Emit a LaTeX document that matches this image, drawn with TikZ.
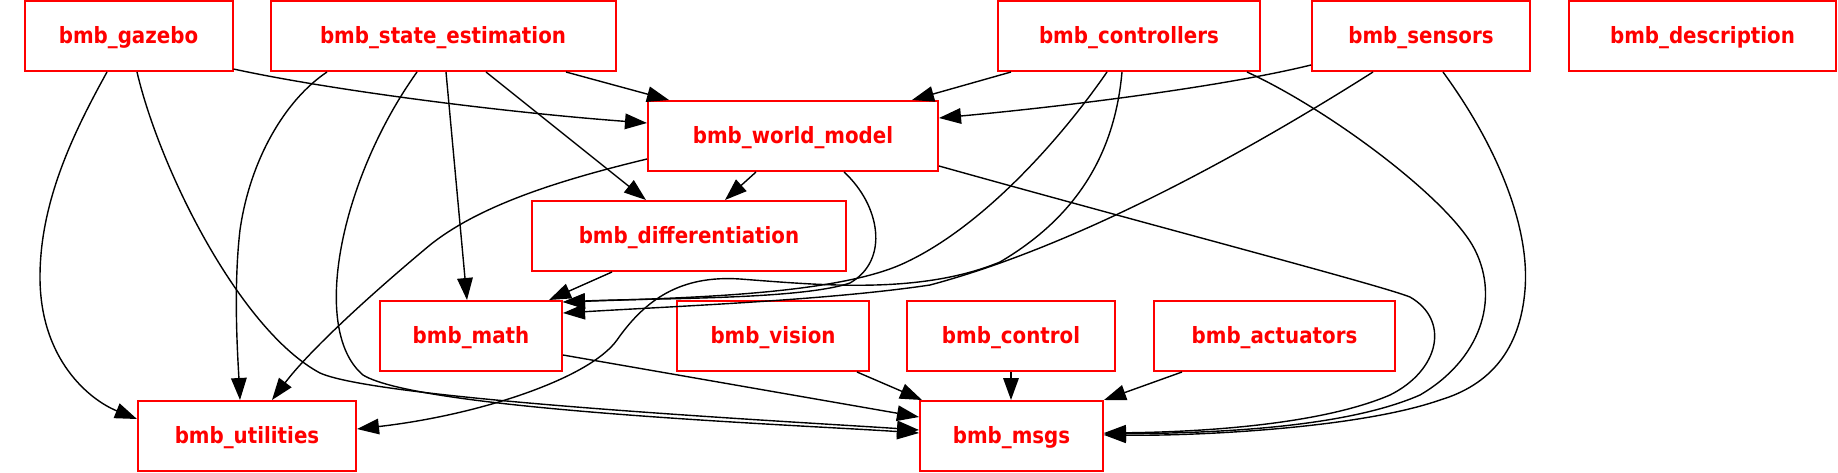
\documentclass[tikz,border=0pt]{standalone}
\usepackage{fontspec}
\setmainfont{DejaVu Sans}[FakeStretch=0.885]
\usetikzlibrary{arrows.meta,calc}
\begin{document}
\begin{tikzpicture}[x=0.5pt,y=-0.5pt,
  pkg/.style={rectangle,draw=red,line width=1pt,text=red,
    font=\fontsize{11.2pt}{13pt}\selectfont\bfseries,
    text height=0.76em,text depth=0pt,
    minimum height=35pt,inner sep=0pt},
  dep/.style={draw=black,line width=0.7pt,-{Triangle[length=11pt,width=7.8pt]}}]
\useasboundingbox (0,0) rectangle (1838,472);
% packages
\node[pkg,minimum width=104pt]   (gazebo)      at (128.5,36)  {bmb\_gazebo};
\node[pkg,minimum width=172.5pt] (stateest)    at (443,36)    {bmb\_state\_estimation};
\node[pkg,minimum width=131pt]   (controllers) at (1129,36)   {bmb\_controllers};
\node[pkg,minimum width=109pt]   (sensors)     at (1421,36)   {bmb\_sensors};
\node[pkg,minimum width=133.5pt] (description) at (1702.5,36) {bmb\_description};
\node[pkg,minimum width=145pt]   (worldmodel)  at (793,136)   {bmb\_world\_model};
\node[pkg,minimum width=157pt]   (diff)        at (689,236)   {bmb\_differentiation};
\node[pkg,minimum width=91pt]    (math)        at (471,336)   {bmb\_math};
\node[pkg,minimum width=96pt]    (vision)      at (773,336)   {bmb\_vision};
\node[pkg,minimum width=104pt]   (control)     at (1011,336)  {bmb\_control};
\node[pkg,minimum width=120.5pt] (actuators)   at (1274.5,336){bmb\_actuators};
\node[pkg,minimum width=109pt]   (utilities)   at (247,436)   {bmb\_utilities};
\node[pkg,minimum width=91.5pt]  (msgs)        at (1011.5,436){bmb\_msgs};
% gazebo
\draw[dep] ($(gazebo.south east)+(0,-3)$) .. controls (330,90) and (500,112) .. ($(worldmodel.west)+(0,-13)$);
\draw[dep] ($(gazebo.south)+(-21.5,0)$) .. controls (75,130) and (40,200) .. (40,277) .. controls (40,360) and (90,400) .. ($(utilities.west)+(0,-17)$);
\draw[dep] ($(gazebo.south)+(8.5,0)$) .. controls (160,170) and (240,330) .. (320,373) .. controls (380,400) and (800,422) .. ($(msgs.west)+(0,-6)$);
% state estimation
\draw[dep] ($(stateest.south)+(123,0)$) -- ($(worldmodel.north)+(-124,0)$);
\draw[dep] ($(stateest.south)+(43,0)$) -- ($(diff.north)+(-43,0)$);
\draw[dep] ($(stateest.south)+(3,0)$) -- ($(math.north)+(-4,0)$);
\draw[dep] ($(stateest.south)+(-116,0)$) .. controls (285,100) and (250,160) .. (240,230) .. controls (233,290) and (238,360) .. ($(utilities.north)+(-7,0)$);
\draw[dep] ($(stateest.south)+(-26,0)$) .. controls (340,180) and (310,330) .. (363,375) .. controls (420,410) and (800,425) .. ($(msgs.west)+(0,-3)$);
% world model
\draw[dep] ($(worldmodel.south)+(-37,0)$) -- ($(diff.north)+(36,0)$);
\draw[dep] ($(worldmodel.west)+(0,23)$) .. controls (560,180) and (480,205) .. (430,245) .. controls (370,295) and (310,350) .. ($(utilities.north)+(25,0)$);
\draw[dep] ($(worldmodel.south)+(51,0)$) .. controls (880,205) and (890,260) .. (850,283) .. controls (800,300) and (650,298) .. ($(math.north east)+(0,2)$);
\draw[dep] ($(worldmodel.east)+(0,30)$) .. controls (1150,225) and (1380,285) .. (1410,297) .. controls (1450,320) and (1440,370) .. (1390,395) .. controls (1320,425) and (1200,432) .. ($(msgs.east)+(0,-3)$);
% differentiation
\draw[dep] ($(diff.south)+(-77,0)$) -- ($(math.north)+(78,0)$);
% controllers
\draw[dep] ($(controllers.south)+(-118,0)$) -- ($(worldmodel.north)+(119,0)$);
\draw[dep] ($(controllers.south)+(-22,0)$) .. controls (1060,140) and (980,230) .. (900,265) .. controls (830,295) and (680,298) .. ($(math.north east)+(0,2)$);
\draw[dep] ($(controllers.south)+(-7,0)$) .. controls (1115,150) and (1080,215) .. (1000,262) .. controls (920,295) and (820,285) .. (740,279) .. controls (680,275) and (645,300) .. (617,340) .. controls (590,378) and (480,415) .. ($(utilities.east)+(0,-7)$);
\draw[dep] ($(controllers.south)+(118,0)$) .. controls (1330,110) and (1450,200) .. (1475,250) .. controls (1500,300) and (1480,360) .. (1420,395) .. controls (1340,430) and (1200,433) .. ($(msgs.east)+(0,-2)$);
% sensors
\draw[dep] ($(sensors.west)+(0,29)$) .. controls (1230,85) and (1080,105) .. ($(worldmodel.east)+(0,-18)$);
\draw[dep] ($(sensors.south)+(-48,0)$) .. controls (1250,150) and (1080,245) .. (930,285) .. controls (830,300) and (680,306) .. ($(math.east)+(0,-23)$);
\draw[dep] ($(sensors.south)+(22,0)$) .. controls (1500,150) and (1530,230) .. (1525,290) .. controls (1520,350) and (1490,385) .. (1440,400) .. controls (1360,428) and (1200,436) .. ($(msgs.east)+(0,-1)$);
% bottom row
\draw[dep] (control.south) -- (msgs.north -| control.south);
\draw[dep] ($(actuators.south)+(-92.5,0)$) -- (msgs.north east);
\draw[dep] ($(vision.south)+(84,0)$) -- ($(msgs.north west)+(3,0)$);
\draw[dep] ($(math.east)+(0,19)$) -- ($(msgs.west)+(0,-19)$);
\end{tikzpicture}
\end{document}
